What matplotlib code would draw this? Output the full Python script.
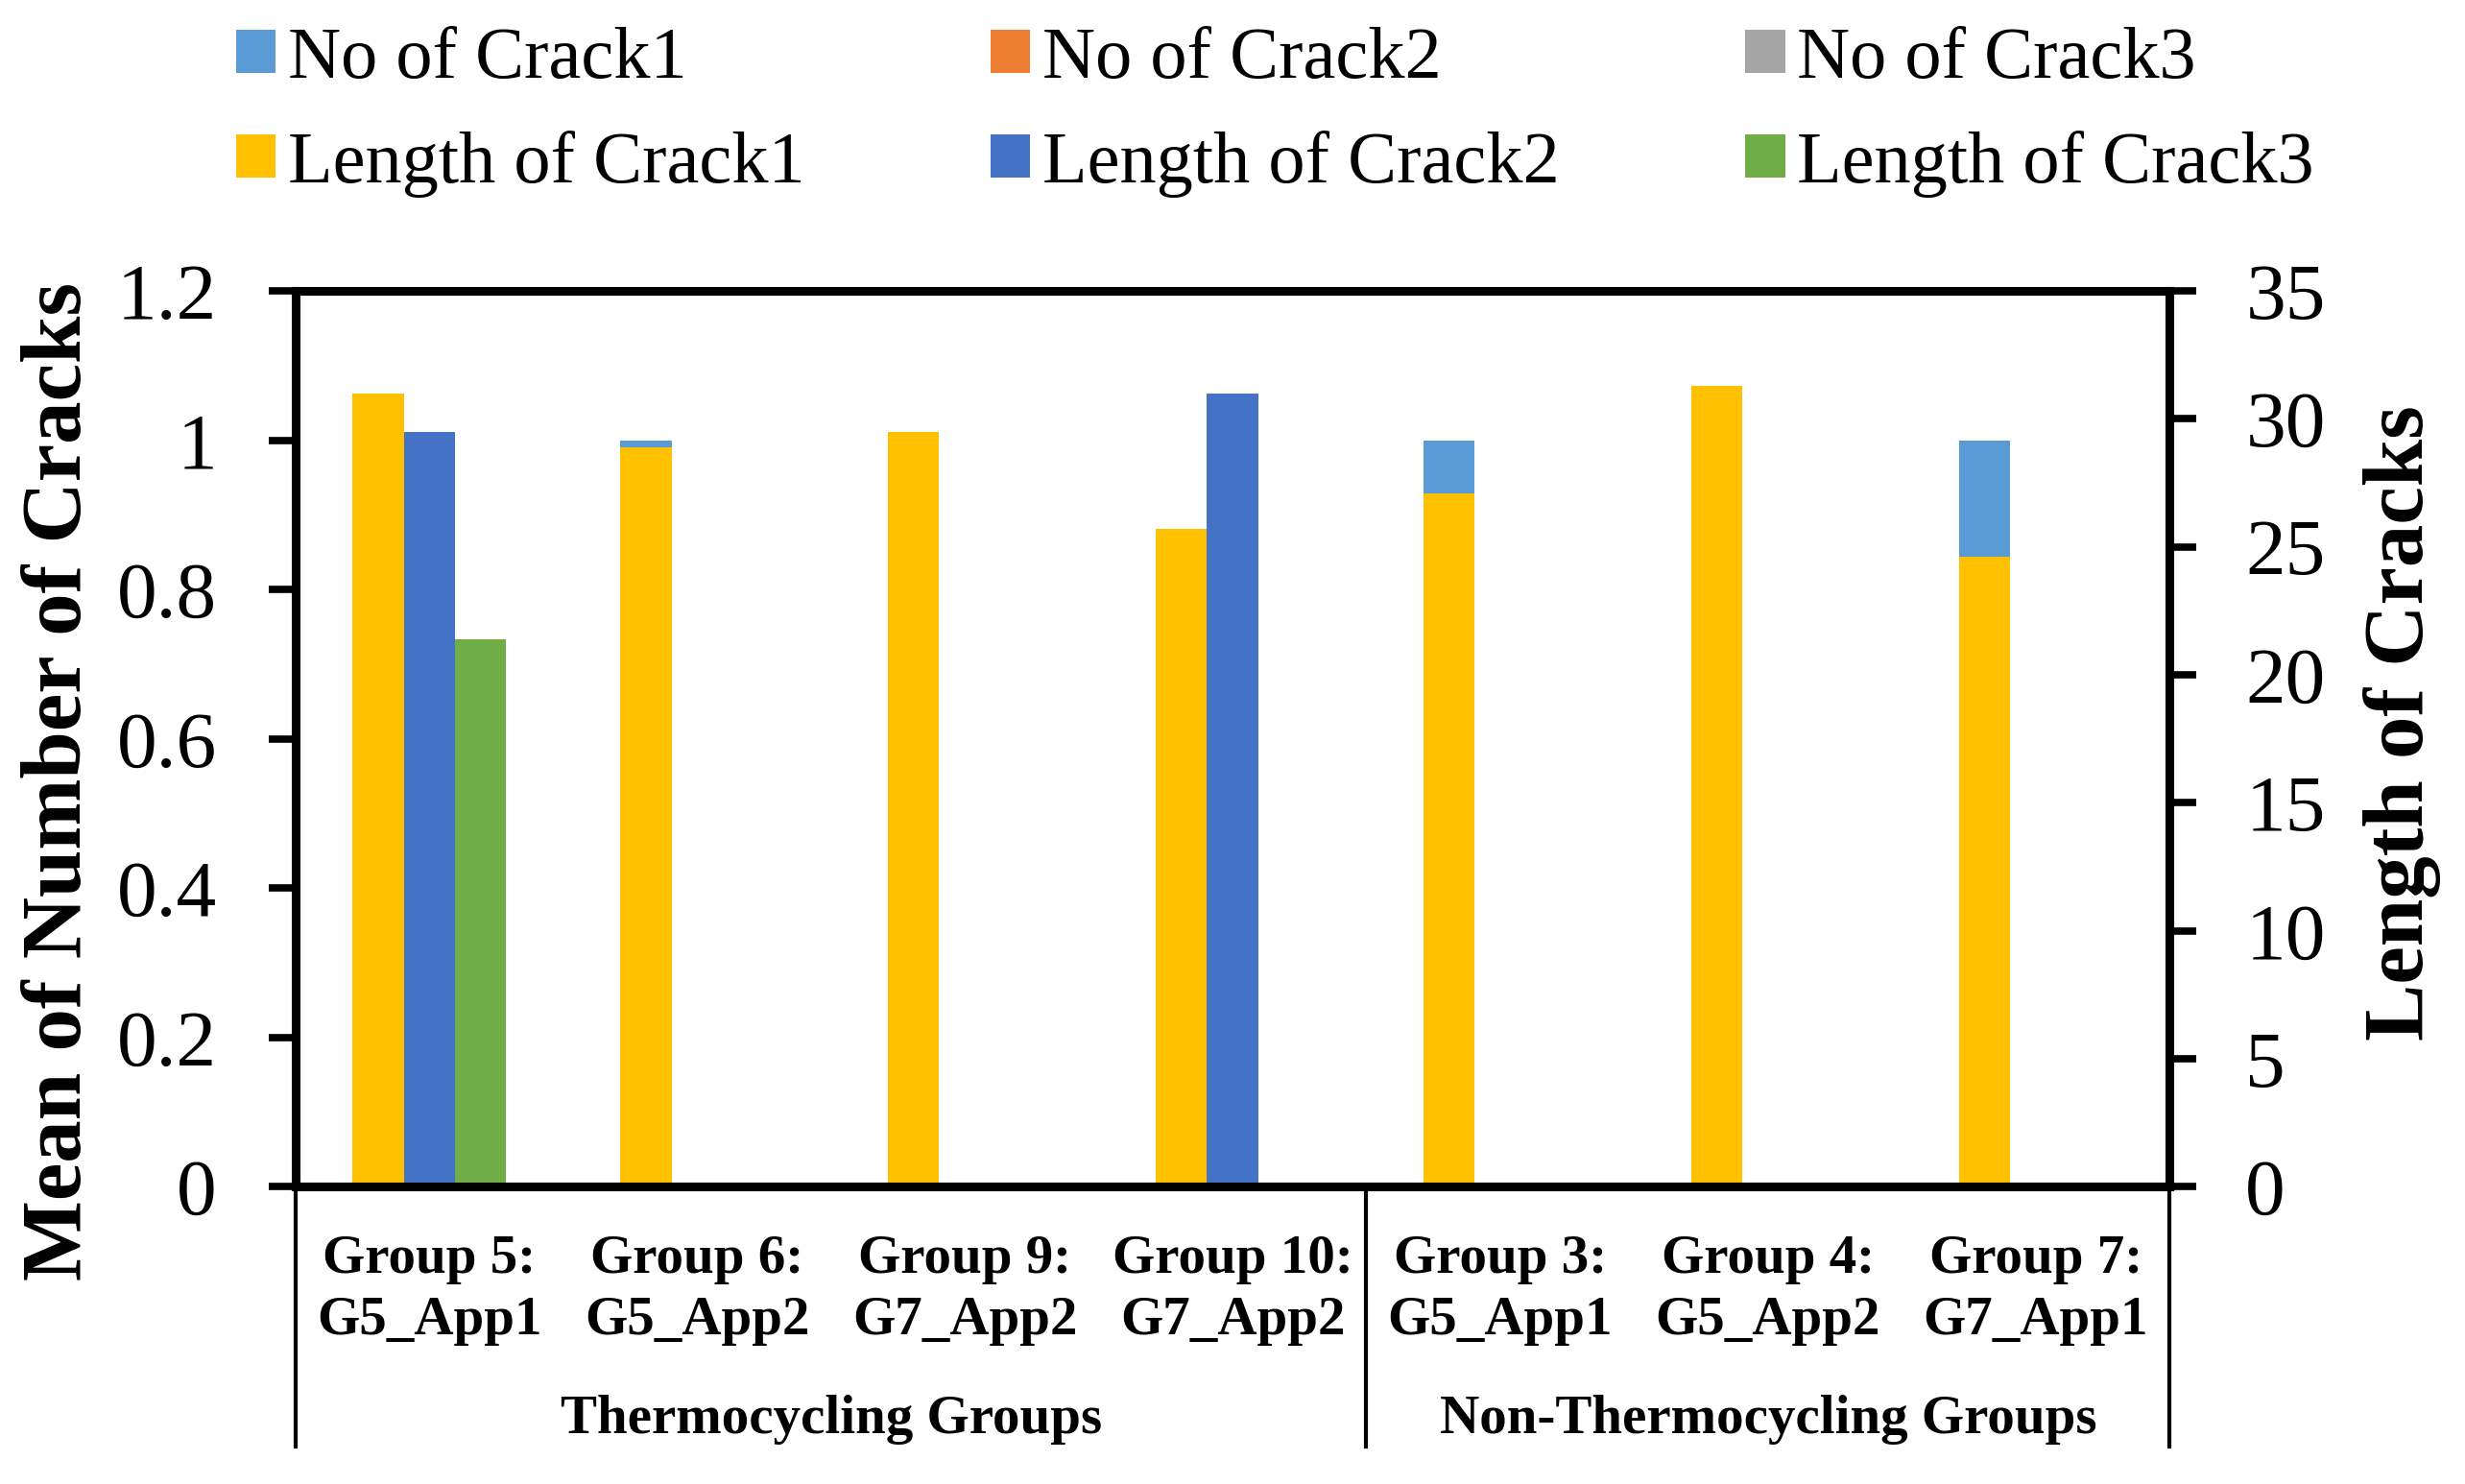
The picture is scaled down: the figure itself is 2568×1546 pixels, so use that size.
import matplotlib
matplotlib.use("Agg")
import matplotlib.pyplot as plt
import matplotlib.transforms as mtransforms
from matplotlib.patches import Patch
import numpy as np

plt.rcParams['font.family'] = ['Liberation Serif', 'DejaVu Serif']

categories = ["Group 5:\nG5_App1", "Group 6:\nG5_App2", "Group 9:\nG7_App2", "Group 10:\nG7_App2",
              "Group 3:\nG5_App1", "Group 4:\nG5_App2", "Group 7:\nG7_App1"]
group_names = ["Thermocycling Groups", "Non-Thermocycling Groups"]
group_sizes = [4, 3]

no_crack1 = [1.0, 1.0, 1.0, 0.5, 1.0, 1.0, 1.0]
no_crack2 = [1.0, 0.0, 0.0, 1.0, 0.0, 0.0, 0.0]
no_crack3 = [0.5, 0.0, 0.0, 0.0, 0.0, 0.0, 0.0]
len_crack1 = [31.0, 28.9, 29.5, 25.7, 27.1, 31.3, 24.6]
len_crack2 = [29.5, 0.0, 0.0, 31.0, 0.0, 0.0, 0.0]
len_crack3 = [21.4, 0.0, 0.0, 0.0, 0.0, 0.0, 0.0]

left_ticks = [0, 0.2, 0.4, 0.6, 0.8, 1, 1.2]
left_ticklabels = ["0", "0.2", "0.4", "0.6", "0.8", "1", "1.2"]
right_ticks = [0, 5, 10, 15, 20, 25, 30, 35]

colors_no = ["#5B9BD5", "#ED7D31", "#A5A5A5"]
colors_len = ["#FFC000", "#4472C4", "#70AD47"]

fig = plt.figure(figsize=(25.68, 15.46), dpi=100)
ax = fig.add_axes([0.1199, 0.2002, 0.8801 - 0.1199, 0.804 - 0.2002])
ax2 = ax.twinx()

x = np.arange(len(categories))
w = 0.191
offs = [-w, 0, w]
for vals, c, o in zip([no_crack1, no_crack2, no_crack3], colors_no, offs):
    ax.bar(x + o, vals, width=w, color=c, linewidth=0)
for vals, c, o in zip([len_crack1, len_crack2, len_crack3], colors_len, offs):
    ax2.bar(x + o, vals, width=w, color=c, linewidth=0)

ax.set_xlim(-0.5, len(categories) - 0.5)
ax.set_ylim(0, 1.2)
ax2.set_ylim(0, 35)

ax.set_yticks(left_ticks)
ax.set_yticklabels(left_ticklabels)
ax2.set_yticks(right_ticks)

for a in (ax, ax2):
    for s in a.spines.values():
        s.set_linewidth(6.5)
        s.set_color("black")
        s.set_capstyle('projecting')

ax.tick_params(axis='y', direction='out', length=20, width=5.5, labelsize=60, pad=39)
ax2.tick_params(axis='y', direction='out', length=20, width=5.5, labelsize=60, pad=37)

ax.set_xticks(x)
ax.set_xticklabels(categories, fontsize=41, fontweight='bold', linespacing=1.28)
ax.tick_params(axis='x', length=0, pad=36)

# separators and group labels
trans = mtransforms.blended_transform_factory(ax.transData, ax.transAxes)
bounds = np.concatenate([[0], np.cumsum(group_sizes)]) - 0.5
for b in bounds:
    ax.plot([b, b], [0, -0.2895], transform=trans, color="black", linewidth=3, clip_on=False)
for i, name in enumerate(group_names):
    cx = (bounds[i] + bounds[i + 1]) / 2
    ax.text(cx, -0.2596, name, transform=trans, ha='center', va='center',
            fontsize=41, fontweight='bold')

fig.text(0.0243, 0.4735, "Mean of Number of Cracks", rotation=90, ha='center', va='center',
         fontsize=64, fontweight='bold')
fig.text(0.9745, 0.5127, "Length of Cracks", rotation=90, ha='center', va='center',
         fontsize=64, fontweight='bold')

labels = ["No of Crack1", "No of Crack2", "No of Crack3",
          "Length of Crack1", "Length of Crack2", "Length of Crack3"]
handle_colors = colors_no + colors_len
handles = [Patch(facecolor=c, edgecolor='none') for c in handle_colors]
# matplotlib fills columns first; reorder for row-major display
order = [0, 3, 1, 4, 2, 5]
fig.legend([handles[i] for i in order], [labels[i] for i in order], ncol=3,
           loc='upper left', bbox_to_anchor=(0.0957, 0.982), frameon=False,
           fontsize=55, handlelength=0.54, handleheight=0.53, handletextpad=0.17,
           columnspacing=2.53, labelspacing=0.51, borderpad=0, borderaxespad=0)

fig.savefig("out.png", dpi=100)
